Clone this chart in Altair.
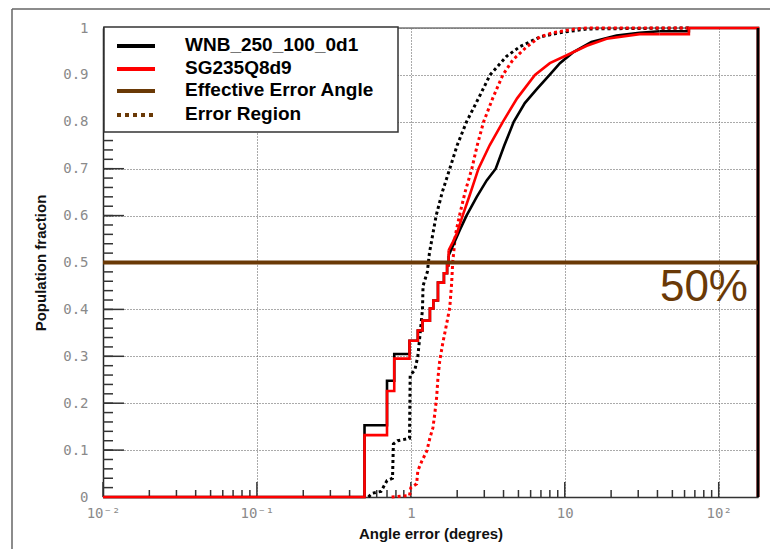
import altair as alt
import pandas as pd

# ---------------- data ----------------
X_TICKS = [0.01, 0.1, 1, 10, 100]
X_TICK_LABELS = ["10\u207b\u00b2", "10\u207b\u00b9", "1", "10", "10\u00b2"]
X_MINOR = [m * d for d in [0.01, 0.1, 1, 10] for m in range(2, 10)] + [200]
Y_TICKS = [0, 0.1, 0.2, 0.3, 0.4, 0.5, 0.6, 0.7, 0.8, 0.9, 1.0]
Y_MINOR = [i / 50 for i in range(51)]

# low-angle staircase (shared edges)
STEP_X = [0.01, 0.5, 0.7, 0.78, 0.98, 1.11, 1.19, 1.33, 1.40, 1.50, 1.64, 1.72, 1.76]
WNB_STEP_Y = [0.0, 0.153, 0.248, 0.305, 0.333, 0.355, 0.376, 0.402, 0.419, 0.457, 0.477, 0.494, 0.515]
SG_STEP_Y = [0.0, 0.132, 0.226, 0.295, 0.333, 0.355, 0.376, 0.402, 0.419, 0.457, 0.477, 0.494, 0.526]

# upper fine-grained parts
WNB_CURVE_X = [1.76, 1.93, 2.07, 2.30, 2.68, 3.11, 3.56, 4.05, 4.66, 5.5, 6.6, 7.97, 9.3, 11.3, 14.9, 21.7, 30.6, 41.4]
WNB_CURVE_Y = [0.515, 0.545, 0.568, 0.60, 0.64, 0.675, 0.70, 0.75, 0.80, 0.84, 0.87, 0.90, 0.925, 0.948, 0.970, 0.984, 0.990, 0.993]
SG_CURVE_X = [1.76, 1.87, 1.99, 2.17, 2.42, 2.75, 3.25, 3.96, 4.9, 6.4, 8.0, 10.3, 13.9, 18.7, 30.6, 41.4]
SG_CURVE_Y = [0.526, 0.543, 0.562, 0.60, 0.645, 0.70, 0.75, 0.80, 0.85, 0.90, 0.925, 0.942, 0.962, 0.977, 0.987, 0.987]

# high-angle tail (last bin and overflow edge)
TAIL_X = [41.4, 64, 180]
WNB_TAIL_Y = [0.993, 1.0, 0.0]
SG_TAIL_Y = [0.987, 1.0, 0.0]

# error-region (dotted) curves
WNB_REG_X = [0.53, 0.56, 0.64, 0.70, 0.76, 0.77, 0.82, 0.98, 0.99, 1.06, 1.11, 1.15, 1.19, 1.20, 1.28, 1.32,
             1.46, 1.6, 1.79, 2.0, 2.30, 2.75, 3.27, 4.2, 5.1, 6.9, 9.3, 13.9, 64]
WNB_REG_Y = [0.0, 0.008, 0.012, 0.035, 0.04, 0.113, 0.12, 0.125, 0.26, 0.27, 0.30, 0.35, 0.40, 0.45, 0.48, 0.52,
             0.60, 0.65, 0.70, 0.75, 0.80, 0.85, 0.90, 0.94, 0.96, 0.981, 0.99, 0.998, 1.0]
SG_REG_X = [0.75, 0.98, 1.0, 1.09, 1.11, 1.18, 1.27, 1.33, 1.39, 1.43, 1.47, 1.50, 1.54, 1.61, 1.71, 1.79, 1.84,
            1.87, 1.95, 2.07, 2.25, 2.49, 2.7, 2.97, 3.4, 3.96, 4.6, 5.66, 6.9, 8.4, 11.6, 13.9, 64]
SG_REG_Y = [0.0, 0.003, 0.02, 0.028, 0.056, 0.077, 0.098, 0.126, 0.147, 0.177, 0.212, 0.254, 0.29, 0.327, 0.37,
            0.404, 0.455, 0.50, 0.56, 0.60, 0.65, 0.70, 0.75, 0.80, 0.85, 0.90, 0.932, 0.96, 0.981, 0.99, 0.998, 1.0, 1.0]

EFFECTIVE_LEVEL = 0.5
LEVEL_TEXT = "50%"
LEGEND_LABELS = ["WNB_250_100_0d1", "SG235Q8d9", "Effective Error Angle", "Error Region"]

BROWN = "#6a3906"
W, H = 655, 469

# ---------------- scales / shared encodings ----------------
XS = alt.Scale(type="log", domain=[0.01, 180], nice=False)
YS = alt.Scale(domain=[0, 1], nice=False, zero=False)

label_expr = " : ".join(
    f"datum.value == {v} ? '{t}'" for v, t in zip(X_TICKS, X_TICK_LABELS)
) + " : ''"

X_AXIS = alt.Axis(
    values=X_TICKS, labelExpr=label_expr, grid=True, gridDash=[1, 2], gridColor="#555",
    gridWidth=1, ticks=False, domain=True, domainColor="#333", domainWidth=1.5,
    labelFont="DejaVu Sans Mono", labelFontSize=14, labelColor="#8a8a8a", labelPadding=9,
    labelFlush=False, labelOverlap=False,
    title="Angle error (degres)", titleFont="Liberation Sans", titleFontSize=15,
    titleFontWeight="bold", titleColor="#111", titleY=41, titleBaseline="alphabetic",
)
Y_AXIS = alt.Axis(
    values=Y_TICKS, format=".1~f", grid=True, gridDash=[1, 2], gridColor="#555", gridWidth=1,
    ticks=False, domain=True, domainColor="#222", domainWidth=1.5,
    labelFont="DejaVu Sans Mono", labelFontSize=14, labelColor="#8a8a8a", labelPadding=15,
    labelFlush=False, labelOverlap=False,
    title="Population fraction", titleFont="Liberation Sans", titleFontSize=15,
    titleFontWeight="bold", titleColor="#111", titleX=-63, titleY=H / 2, titleAngle=-90,
    titleAlign="center", titleBaseline="middle",
)


def X(field="x"):
    return alt.X(f"{field}:Q", scale=XS, axis=X_AXIS)


def Y(field="y"):
    return alt.Y(f"{field}:Q", scale=YS, axis=Y_AXIS)


def frame(xs, ys, part):
    return pd.DataFrame({"x": xs, "y": ys, "part": part, "i": list(range(len(xs)))})


def step_layer(step_y, tail_y, color):
    d = pd.concat([frame(STEP_X, step_y, "a"), frame(TAIL_X, tail_y, "b")])
    return alt.Chart(d).mark_line(interpolate="step-after", strokeWidth=2.6, color=color).encode(
        x=X(), y=Y(), detail="part:N", order="i:Q")


def curve_layer(xs, ys, color, dash=None, width=2.6):
    kw = dict(interpolate="linear", strokeWidth=width, color=color)
    if dash:
        kw["strokeDash"] = dash
    return alt.Chart(frame(xs, ys, "c")).mark_line(**kw).encode(x=X(), y=Y(), order="i:Q")


# ---------------- frame, ticks, grid ----------------
top_line = alt.Chart(pd.DataFrame({"y": [1.0]})).mark_rule(color="#777", strokeWidth=1.5).encode(
    y=Y(), x=alt.value(0), x2=alt.value(W))

y_major = alt.Chart(pd.DataFrame({"y": Y_TICKS})).mark_rule(color="#333", strokeWidth=1.5).encode(
    y=Y(), x=alt.value(0), x2=alt.value(21))
y_minor = alt.Chart(pd.DataFrame({"y": Y_MINOR})).mark_rule(color="#333", strokeWidth=1.5).encode(
    y=Y(), x=alt.value(0), x2=alt.value(10))
x_major = alt.Chart(pd.DataFrame({"x": X_TICKS})).mark_rule(color="#333", strokeWidth=1.5).encode(
    x=X(), y=alt.value(H), y2=alt.value(H - 15))
x_minor = alt.Chart(pd.DataFrame({"x": [v for v in X_MINOR if v <= 180]})).mark_rule(
    color="#333", strokeWidth=1.5).encode(x=X(), y=alt.value(H), y2=alt.value(H - 7))

outer_left = alt.Chart(pd.DataFrame({"k": [0]})).mark_rule(color="#666", strokeWidth=1.5).encode(
    x=alt.value(-91), y=alt.value(-19), y2=alt.value(530))
outer_top = alt.Chart(pd.DataFrame({"k": [0]})).mark_rule(color="#666", strokeWidth=1.5).encode(
    x=alt.value(-91), x2=alt.value(W + 20), y=alt.value(-19))

# ---------------- curves ----------------
wnb_reg = curve_layer(WNB_REG_X, WNB_REG_Y, "black", dash=[3, 3], width=3)
sg_reg = curve_layer(SG_REG_X, SG_REG_Y, "#ff0000", dash=[3, 3], width=3)
wnb_steps = step_layer(WNB_STEP_Y, WNB_TAIL_Y, "black")
wnb_curve = curve_layer(WNB_CURVE_X, WNB_CURVE_Y, "black")
sg_steps = step_layer(SG_STEP_Y, SG_TAIL_Y, "#ff0000")
sg_curve = curve_layer(SG_CURVE_X, SG_CURVE_Y, "#ff0000")
# the WNB overflow edge is drawn over the red one, as in the reference
wnb_edge = curve_layer([TAIL_X[-1], TAIL_X[-1]], [WNB_TAIL_Y[-2], WNB_TAIL_Y[-1]], "black")

level = alt.Chart(pd.DataFrame({"y": [EFFECTIVE_LEVEL]})).mark_rule(color=BROWN, strokeWidth=4).encode(
    y=Y(), x=alt.value(0), x2=alt.value(W))
level_text = alt.Chart(pd.DataFrame({"y": [EFFECTIVE_LEVEL], "t": [LEVEL_TEXT]})).mark_text(
    color=BROWN, font="Liberation Sans", fontSize=44, align="right", baseline="alphabetic", dy=38
).encode(y=Y(), x=alt.value(645), text="t:N")

# ---------------- legend ----------------
legend_box = alt.Chart(pd.DataFrame({"k": [0]})).mark_rect(
    fill="white", stroke="#333", strokeWidth=1.5).encode(
    x=alt.value(1), x2=alt.value(295), y=alt.value(-1), y2=alt.value(104))

legend_rows = [18, 41, 63, 87]
legend_styles = [("black", None), ("#ff0000", None), (BROWN, None), (BROWN, [4, 4])]
legend_layers = [legend_box]
for lab, row, (col, dash) in zip(LEGEND_LABELS, legend_rows, legend_styles):
    kw = dict(color=col, strokeWidth=4)
    if dash:
        kw["strokeDash"] = dash
    legend_layers.append(
        alt.Chart(pd.DataFrame({"label": [lab]})).mark_rule(**kw).encode(
            x=alt.value(14), x2=alt.value(52), y=alt.value(row)))
    legend_layers.append(
        alt.Chart(pd.DataFrame({"label": [lab]})).mark_text(
            font="Liberation Sans", fontSize=19, fontWeight="bold", color="black",
            align="left", baseline="middle").encode(
            x=alt.value(82), y=alt.value(row - 1), text="label:N"))

chart = alt.layer(
    top_line, y_minor, y_major, x_minor, x_major,
    wnb_reg, sg_reg, wnb_steps, wnb_curve, sg_steps, sg_curve, wnb_edge,
    level, level_text, outer_left, outer_top, *legend_layers,
).properties(
    width=W, height=H,
    autosize=alt.AutoSizeParams(type="none"),
    padding={"left": 95, "top": 20, "right": 12, "bottom": 52},
).configure_view(stroke=None).configure(background="white")

chart.save("out.html", embed_options={"renderer": "svg", "actions": False})
